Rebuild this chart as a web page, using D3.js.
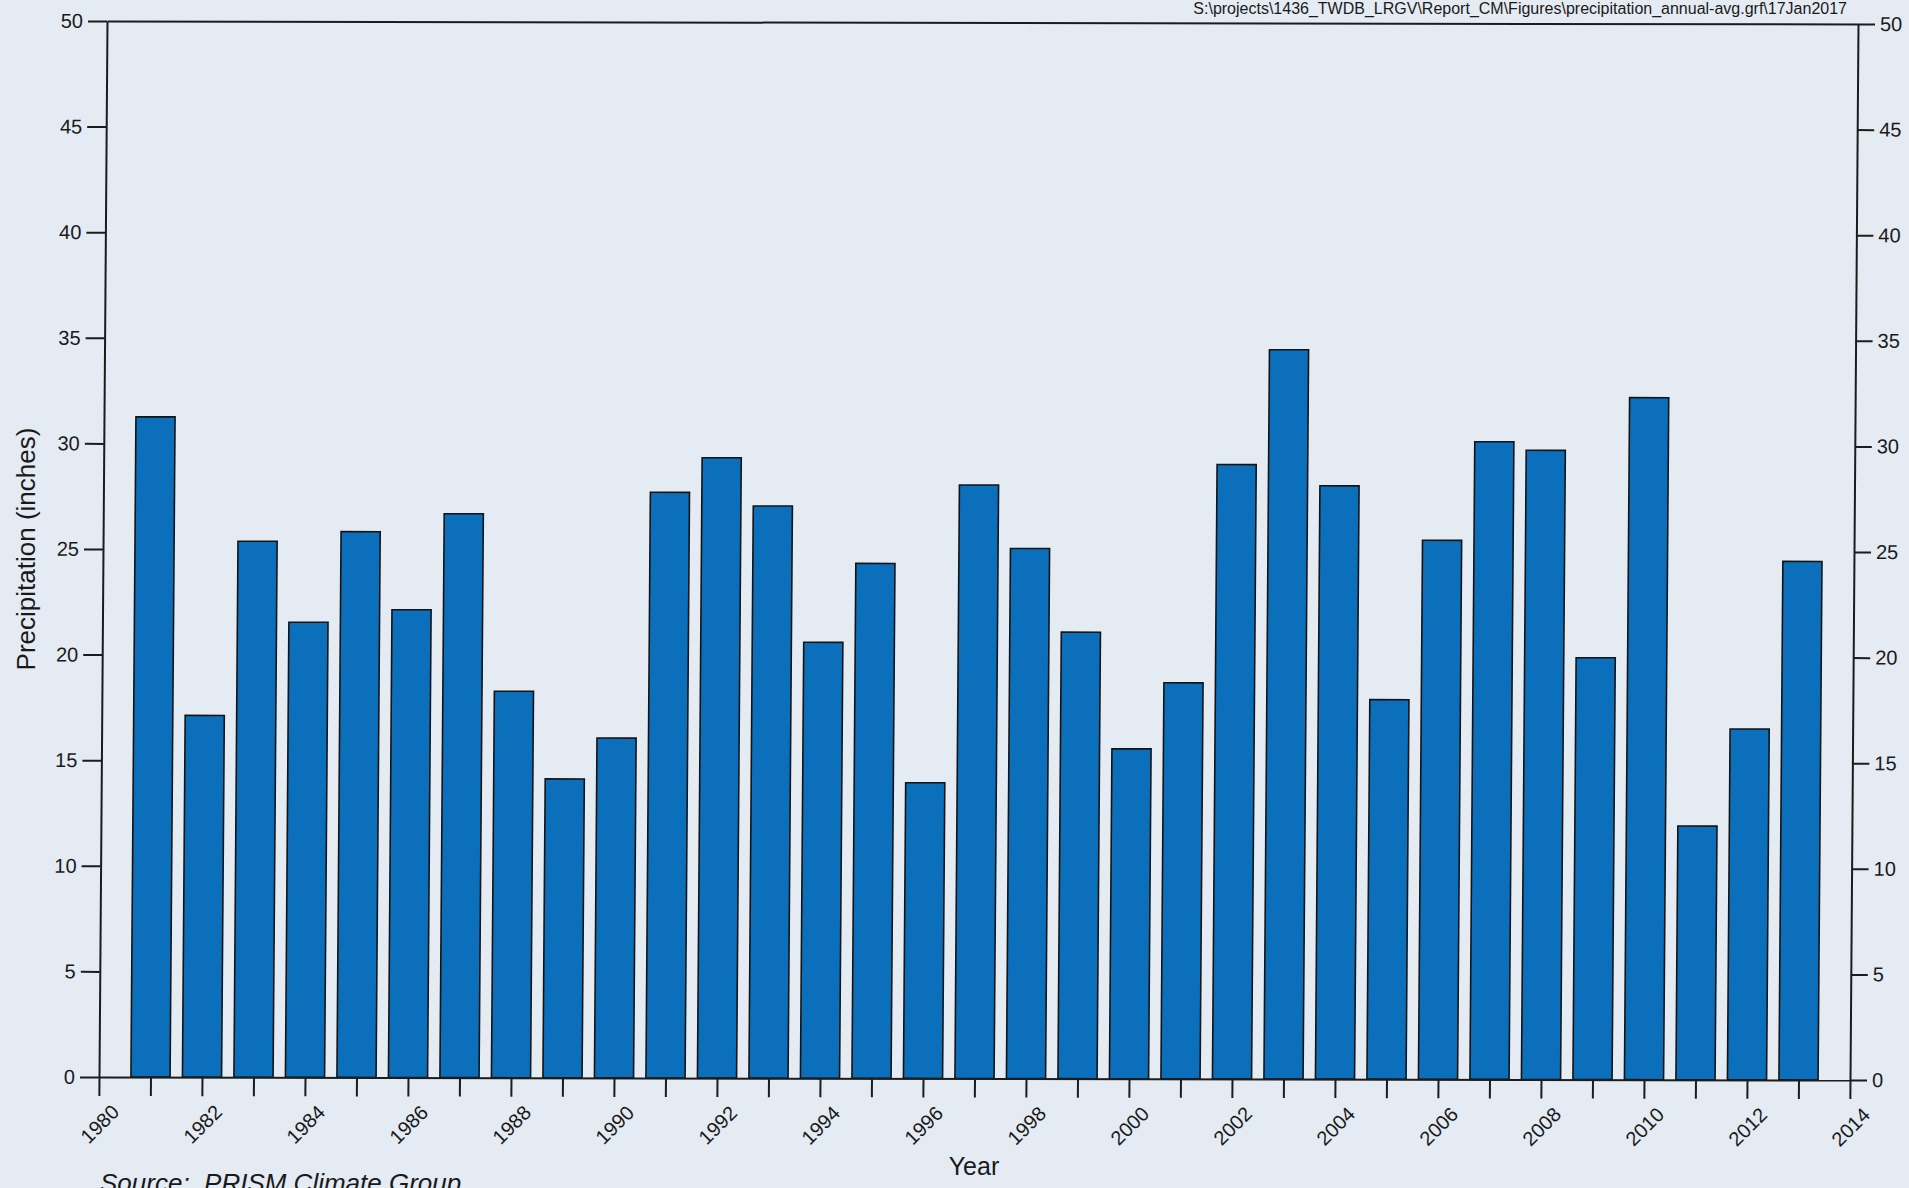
<!DOCTYPE html>
<html><head><meta charset="utf-8">
<script src="https://cdn.jsdelivr.net/npm/d3@7"></script>
<style>
html,body{margin:0;padding:0;background:#e5ebf3;overflow:hidden}
svg{display:block}
text{font-family:"Liberation Sans",Arial,sans-serif;fill:#1a1a1a;white-space:pre}
</style></head><body>
<svg id="chart" width="1909" height="1188"></svg>
<script>
// ---- data ----
const years = [1981,1982,1983,1984,1985,1986,1987,1988,1989,1990,1991,1992,1993,1994,1995,1996,1997,1998,1999,2000,2001,2002,2003,2004,2005,2006,2007,2008,2009,2010,2011,2012,2013];
const precipitation = [31.26,17.13,25.38,21.55,25.84,22.15,26.70,18.30,14.15,16.09,27.73,29.37,27.09,20.64,24.38,14.00,28.10,25.10,21.14,15.62,18.75,29.09,34.53,28.09,17.97,25.52,30.19,29.79,19.97,32.29,12.01,16.61,24.55];
const yTicks = [0,5,10,15,20,25,30,35,40,45,50];
const xMinorTicks = [1980,1981,1982,1983,1984,1985,1986,1987,1988,1989,1990,1991,1992,1993,1994,1995,1996,1997,1998,1999,2000,2001,2002,2003,2004,2005,2006,2007,2008,2009,2010,2011,2012,2013,2014];
const xLabelTicks = [1980,1982,1984,1986,1988,1990,1992,1994,1996,1998,2000,2002,2004,2006,2008,2010,2012,2014];
const yTitle = "Precipitation (inches)";
const xTitle = "Year";
const sourceNote = "Source:  PRISM Climate Group";
const fileNote = "S:\\projects\\1436_TWDB_LRGV\\Report_CM\\Figures\\precipitation_annual-avg.grf\\17Jan2017";

// ---- layout ----
const W = 1909, H = 1188;
const plotW = 1751, plotH = 1056;
const svg = d3.select("#chart");
svg.append("rect").attr("width", W).attr("height", H).attr("fill", "#e5ebf3");

// slight scan skew of the original page
const g = svg.append("g").attr("transform", `matrix(1, ${3/1751}, ${-8/1056}, 1, 107, 21)`);

const x = d3.scaleLinear().domain([1980, 2014]).range([0, plotW]);
const y = d3.scaleLinear().domain([0, 50]).range([plotH, 0]);
const barW = x(1980.76) - x(1980);

const data = years.map((yr, i) => ({ yr, v: precipitation[i] }));
g.selectAll("rect.bar").data(data).join("rect")
  .attr("class", "bar")
  .attr("x", d => x(d.yr) - barW / 2)
  .attr("y", d => y(d.v))
  .attr("width", barW)
  .attr("height", d => y(0) - y(d.v))
  .attr("fill", "#0b6fbb")
  .attr("stroke", "#141414")
  .attr("stroke-width", 1.6);

function styleAxis(sel) {
  sel.selectAll("path.domain").attr("stroke", "#1c1c1c").attr("stroke-width", 2);
  sel.selectAll(".tick line").attr("stroke", "#1c1c1c").attr("stroke-width", 2);
  sel.selectAll(".tick text").attr("fill", "#1a1a1a").style("font-size", "20px")
     .style("font-family", '"Liberation Sans", Arial, sans-serif');
}

g.append("g").call(d3.axisLeft(y).tickValues(yTicks).tickSize(19).tickPadding(5).tickSizeOuter(0)).call(styleAxis);
g.append("g").attr("transform", `translate(${plotW},0)`)
  .call(d3.axisRight(y).tickValues(yTicks).tickSize(17).tickPadding(5).tickSizeOuter(0)).call(styleAxis);
g.append("g").attr("transform", `translate(0,${plotH})`)
  .call(d3.axisBottom(x).tickValues(xMinorTicks).tickSize(19).tickFormat("").tickSizeOuter(0)).call(styleAxis);
g.append("g").call(d3.axisTop(x).tickValues([]).tickSizeOuter(0)).call(styleAxis);

g.append("g").selectAll("text").data(xLabelTicks).join("text")
  .attr("transform", d => `translate(${x(d) + 1},${plotH + 47}) rotate(-45)`)
  .attr("text-anchor", "middle").attr("dy", "0.35em")
  .style("font-size", "20px")
  .text(d => d);

// titles
svg.append("text").attr("transform", "translate(35,549) rotate(-90)")
  .attr("text-anchor", "middle").style("font-size", "26px").text(yTitle);
svg.append("text").attr("x", 974).attr("y", 1175).attr("text-anchor", "middle")
  .style("font-size", "25px").text(xTitle);
svg.append("text").attr("x", 100).attr("y", 1192).style("font-size", "26px")
  .style("font-style", "italic").text(sourceNote);
svg.append("text").attr("x", 1847).attr("y", 14).attr("text-anchor", "end")
  .style("font-size", "16px").text(fileNote);
</script>
</body></html>
